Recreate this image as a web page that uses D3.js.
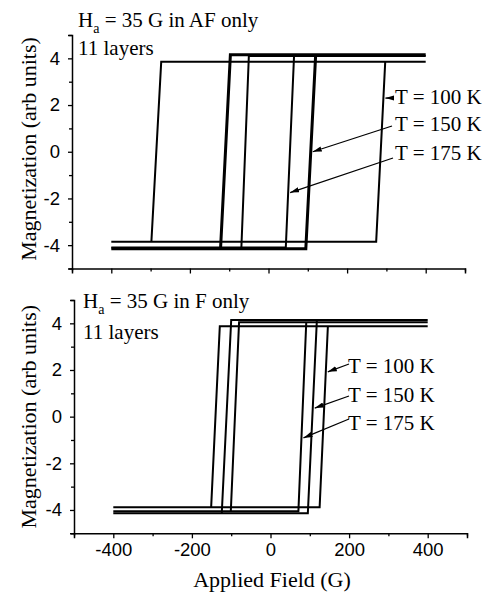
<!DOCTYPE html>
<html>
<head>
<meta charset="utf-8">
<script src="https://cdn.jsdelivr.net/npm/d3@7"></script>
<style>
body { margin: 0; background: #fff; }
</style>
</head>
<body>
<script>
// size of the page
var w = 485;
var h = 594;

// tick labels
var fieldTicks = [-400, -200, 0, 200, 400];
var magTicks = [-4, -2, 0, 2, 4];
var temps = ["T = 100 K", "T = 150 K", "T = 175 K"];

// field sweep ends (G)
var sweepMin = -400;
var sweepMax = 400;

// top panel: anisotropy in AF only
var afSat = [3.85, 4.15, 4.1];
var afDownTop = [-273, -97, -50];
var afDownBot = [-298, -122, -69];
var afUpBot = [274, 95, 44];
var afUpTop = [297, 120, 65];
var afTipM = [2.3, 0, -1.75];

// bottom panel: anisotropy in F only
var fSat = [3.88, 4.14, 4.05];
var fDownTop = [-129, -100, -80];
var fDownBot = [-151, -124, -101];
var fUpBot = [125, 95, 71];
var fUpTop = [146, 118, 91];
var fTipM = [1.92, 0.37, -0.91];

var svg = d3.select("body")
    .append("svg")
    .attr("width", w)
    .attr("height", h);

svg.append("defs").append("marker")
    .attr("id", "arrow")
    .attr("markerUnits", "userSpaceOnUse")
    .attr("viewBox", "0 0 10 6")
    .attr("refX", 10)
    .attr("refY", 3)
    .attr("markerWidth", 9)
    .attr("markerHeight", 5.5)
    .attr("orient", "auto")
    .append("path")
    .attr("d", "M0,0L10,3L0,6Z")
    .attr("fill", "#000");

var panels = [
    {
        xr: [72, 465], yr: [268.5, 35],
        sat: afSat, downTop: afDownTop, downBot: afDownBot, upBot: afUpBot, upTop: afUpTop,
        tipM: afTipM,
        widths: [2, 3, 2],
        title: "35 G in AF only", titleX: 78, titleY: 26.5, layersY: 55,
        labels: [[395, 104, 394, 98], [395, 131, 392, 126], [395, 160, 393, 158]],
        xLabels: false, ylabY: 149
    },
    {
        xr: [74, 467], yr: [533.3, 300],
        sat: fSat, downTop: fDownTop, downBot: fDownBot, upBot: fUpBot, upTop: fUpTop,
        tipM: fTipM,
        widths: [2, 2, 2],
        title: "35 G in F only", titleX: 83, titleY: 308, layersY: 339,
        labels: [[348, 373, 349, 364], [348, 402, 349, 396], [348, 430, 349, 419]],
        xLabels: true, ylabY: 416.7
    }
];

panels.forEach(function(p) {
    var x = d3.scaleLinear().domain([-500, 500]).range(p.xr);
    var y = d3.scaleLinear().domain([-5, 5]).range(p.yr);
    var g = svg.append("g");

    // x axis
    var xAxis = d3.axisBottom(x)
        .tickValues(d3.range(-500, 501, 100))
        .tickSizeOuter(0)
        .tickSize(5)
        .tickPadding(5)
        .tickFormat(function(d) {
            if (!p.xLabels) return "";
            return fieldTicks.indexOf(d) >= 0 ? d : "";
        });
    var xg = g.append("g")
        .attr("transform", "translate(0," + p.yr[0] + ")")
        .call(xAxis);
    xg.selectAll(".tick line")
        .attr("y2", function(d) { return fieldTicks.indexOf(d) >= 0 ? 5 : 3; });

    // y axis
    var yAxis = d3.axisLeft(y)
        .tickValues(d3.range(-5, 6, 1))
        .tickSizeOuter(0)
        .tickSize(4)
        .tickPadding(8)
        .tickFormat(function(d) {
            return magTicks.indexOf(d) >= 0 ? d : "";
        });
    var yg = g.append("g")
        .attr("transform", "translate(" + p.xr[0] + ",0)")
        .call(yAxis);
    yg.selectAll(".tick line")
        .attr("x2", function(d) { return magTicks.indexOf(d) >= 0 ? -4 : -3; });

    g.selectAll(".domain").attr("stroke", "#000").attr("stroke-width", 1.5);
    g.selectAll(".tick line").attr("stroke", "#000").attr("stroke-width", 1.3);
    g.selectAll(".tick text")
        .attr("font-family", "Liberation Sans, Arial, sans-serif")
        .attr("font-size", "18.5px")
        .attr("fill", "#000");

    // loops
    var line = d3.line()
        .x(function(d) { return x(d[0]); })
        .y(function(d) { return y(d[1]); });

    p.sat.forEach(function(m, i) {
        var pts = [
            [sweepMin, -m], [p.upBot[i], -m], [p.upTop[i], m], [sweepMax, m],
            [p.downTop[i], m], [p.downBot[i], -m], [sweepMin, -m]
        ];
        g.append("path")
            .attr("d", line(pts))
            .attr("fill", "none")
            .attr("stroke", "#000")
            .attr("stroke-width", p.widths[i])
            .attr("stroke-linejoin", "miter");
    });

    // labels with arrows
    temps.forEach(function(t, i) {
        var m = p.sat[i];
        var tm = p.tipM[i];
        var tipField = p.upBot[i] + (p.upTop[i] - p.upBot[i]) * (tm + m) / (2 * m);
        var lb = p.labels[i];
        g.append("line")
            .attr("x1", lb[2])
            .attr("y1", lb[3])
            .attr("x2", x(tipField) + 2)
            .attr("y2", y(tm))
            .attr("stroke", "#000")
            .attr("stroke-width", 1.3)
            .attr("marker-end", "url(#arrow)");
        g.append("text")
            .attr("x", lb[0])
            .attr("y", lb[1])
            .attr("font-family", "Liberation Serif, Times New Roman, serif")
            .attr("font-size", "21px")
            .text(t);
    });

    var title = g.append("text")
        .attr("x", p.titleX)
        .attr("y", p.titleY)
        .attr("font-family", "Liberation Serif, Times New Roman, serif")
        .attr("font-size", "21px");
    title.append("tspan").text("H");
    title.append("tspan").attr("font-size", "14px").attr("dy", 6).text("a");
    title.append("tspan").attr("dy", -6).text(" = " + p.title);

    g.append("text")
        .attr("x", p.titleX)
        .attr("y", p.layersY)
        .attr("font-family", "Liberation Serif, Times New Roman, serif")
        .attr("font-size", "21px")
        .text("11 layers");

    g.append("text")
        .attr("transform", "translate(36," + p.ylabY + ") rotate(-90)")
        .attr("text-anchor", "middle")
        .attr("font-family", "Liberation Serif, Times New Roman, serif")
        .attr("font-size", "22px")
        .text("Magnetization (arb units)");
});

svg.append("text")
    .attr("x", 272)
    .attr("y", 587)
    .attr("text-anchor", "middle")
    .attr("font-family", "Liberation Serif, Times New Roman, serif")
    .attr("font-size", "22px")
    .text("Applied Field (G)");
</script>
</body>
</html>
